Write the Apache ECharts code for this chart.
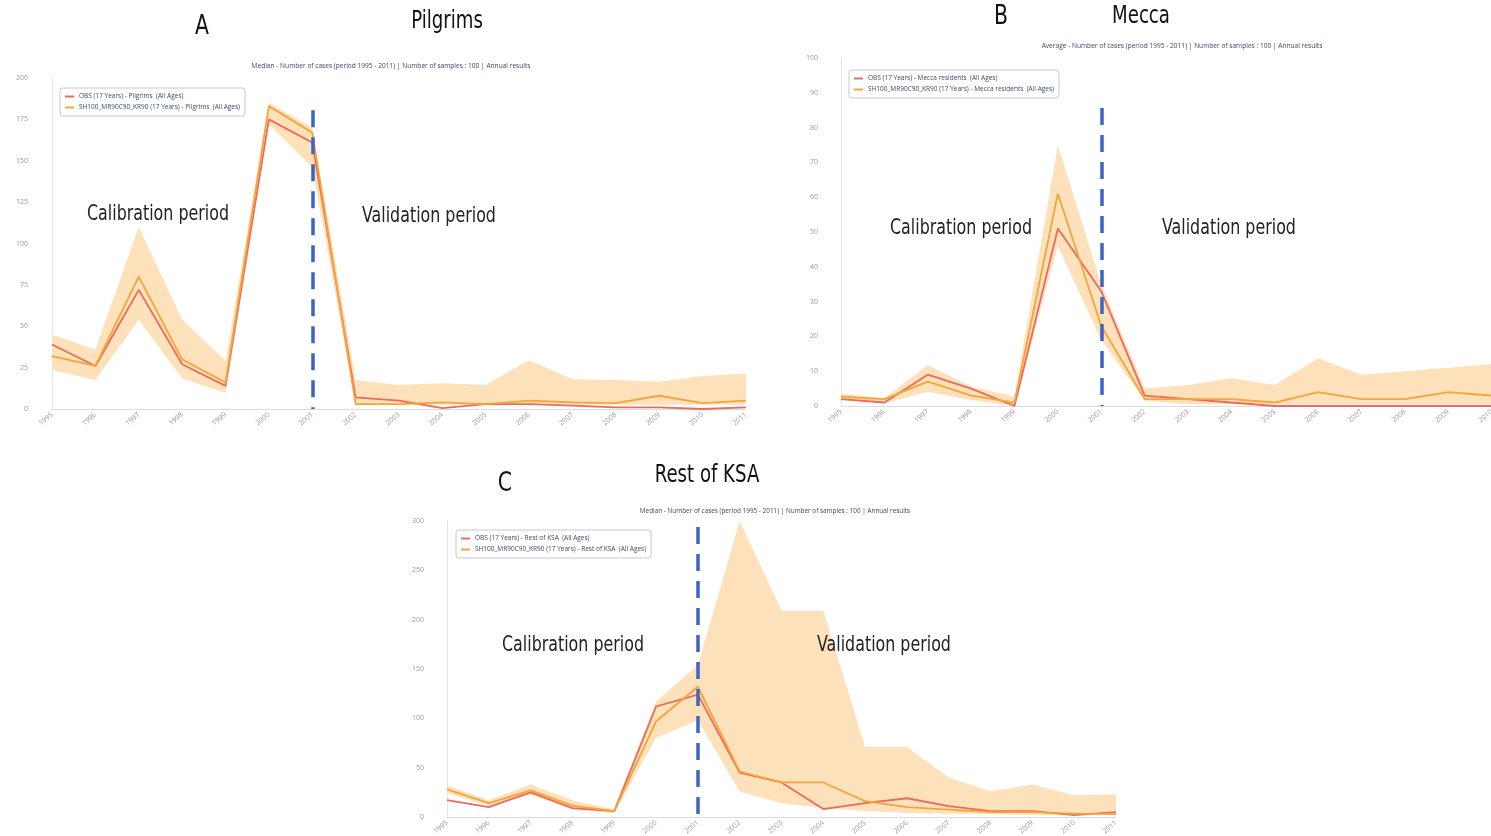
<!DOCTYPE html>
<html><head><meta charset="utf-8">
<script src="https://cdn.jsdelivr.net/npm/echarts@6/dist/echarts.min.js"></script>
<style>html,body{margin:0;padding:0;background:#fff}#c{width:1491px;height:836px}</style>
</head><body><div id="c"></div>
<script>
const years = ['1995','1996','1997','1998','1999','2000','2001','2002','2003','2004','2005','2006','2007','2008','2009','2010','2011'];

// Panel A - Pilgrims
const pilgrimsObs    = [39, 26, 72, 27, 14, 175, 161, 7, 5, 0.5, 3, 3, 2, 1, 1, 0, 1];
const pilgrimsSim    = [32, 26, 80, 30, 16, 183, 167, 3, 3, 4, 3, 5, 4, 3.5, 8, 3.5, 5];
const pilgrimsUpper  = [45, 36, 110, 54, 29, 185, 170, 17.5, 14.5, 15.5, 14.5, 29.5, 18, 17.5, 16.5, 20, 21.5];
const pilgrimsLower  = [23.5, 17.5, 54, 18.5, 9.6, 172, 146, 2.5, 2.5, 2.5, 2.5, 2.5, 2.5, 2.5, 2.5, 2.5, 2.5];

// Panel B - Mecca
const meccaObs   = [2, 1, 9, 5, 0, 51, 33, 3, 2, 1, 0, 0, 0, 0, 0, 0, 0];
const meccaSim   = [2.7, 2, 7, 3, 1, 61, 23, 2, 2, 2, 1, 4, 2, 2, 4, 3, 3];
const meccaUpper = [3.6, 2.2, 11.8, 5.6, 2.7, 75, 35, 5, 6, 8, 6, 13.7, 9, 10, 11, 12, 12];
const meccaLower = [1.7, 0.8, 4, 1.7, 0, 46, 19, 1.5, 0.5, 0.5, 0.5, 0.5, 0.5, 0.5, 0.5, 0.5, 0.5];

// Panel C - Rest of KSA
const ksaObs   = [17, 10, 25, 9, 6, 112, 124, 45, 35, 8, 14, 19, 11, 6, 6, 2, 5];
const ksaSim   = [28, 14, 27, 11.5, 6, 97, 132, 46, 35, 35, 16, 10, 7.5, 5, 5, 3.5, 3];
const ksaUpper = [32, 17, 33, 17, 7.5, 117, 154, 300, 209, 209, 71, 71, 40, 26, 33, 22, 23];
const ksaLower = [24, 11.5, 22.7, 7.5, 4, 80, 98, 25.7, 14, 9, 6, 4, 3.4, 3, 2, 2, 2];

const yTicksA = {min: 0, max: 200, interval: 25};
const yTicksB = {min: 0, max: 100, interval: 10};
const yTicksC = {min: 0, max: 300, interval: 50};

const RED = '#ee6a5c', ORANGE = '#f6a43a', BAND = '#fde1bb', BLUE = '#3c64c4';
const NARROW = "'Liberation Sans Narrow','DejaVu Sans Condensed',sans-serif";
const SMALL = "'Open Sans','Noto Sans',sans-serif";

const panels = [
  {key:'A', region:'Pilgrims', obs:pilgrimsObs, sim:pilgrimsSim, up:pilgrimsUpper, lo:pilgrimsLower, y:yTicksA,
   grid:{left:52, top:78, width:694, height:331, outerBoundsMode:'none'}, ymargin:24, mark:[180.5, 0],
   legend:{left:60, top:88}},
  {key:'B', region:'Mecca residents', obs:meccaObs, sim:meccaSim, up:meccaUpper, lo:meccaLower, y:yTicksB,
   grid:{left:841, top:58, width:694, height:348, outerBoundsMode:'none'}, ymargin:23, mark:[85.6, 0],
   legend:{left:849, top:70}},
  {key:'C', region:'Rest of KSA', obs:ksaObs, sim:ksaSim, up:ksaUpper, lo:ksaLower, y:yTicksC,
   grid:{left:447, top:521, width:669, height:296, outerBoundsMode:'none'}, ymargin:23, mark:[294, 0],
   legend:{left:456, top:530}}
];

const grids = [], xAxes = [], yAxes = [], series = [], legends = [];
panels.forEach((p, i) => {
  grids.push(p.grid);
  xAxes.push({type:'category', gridIndex:i, data:years, boundaryGap:false,
    axisLine:{lineStyle:{color:'#dcdcdc'}}, axisTick:{show:false},
    axisLabel:{rotate:40, fontSize:7, color:'#9a9a9a', interval:0, margin:5, fontFamily:SMALL}});
  yAxes.push({type:'value', gridIndex:i, min:p.y.min, max:p.y.max, interval:p.y.interval,
    axisLine:{show:true, lineStyle:{color:'#e4e4e4'}}, splitLine:{show:false}, axisTick:{show:false},
    axisLabel:{fontSize:7, color:'#9a9a9a', margin:p.ymargin, fontFamily:SMALL}});
  const obsName = 'OBS (17 Years) - ' + p.region + '  (All Ages)';
  const simName = 'SH100_MR90C90_KR90 (17 Years) - ' + p.region + '  (All Ages)';
  series.push({type:'line', xAxisIndex:i, yAxisIndex:i, data:p.lo, stack:'band'+i, symbol:'none',
    lineStyle:{opacity:0}, silent:true, name:'lo'+i});
  series.push({type:'line', xAxisIndex:i, yAxisIndex:i, data:p.up.map((v, k) => v - p.lo[k]), stack:'band'+i,
    symbol:'none', lineStyle:{opacity:0}, areaStyle:{color:BAND, opacity:1}, silent:true, name:'band'+i});
  series.push({type:'line', xAxisIndex:i, yAxisIndex:i, data:p.obs, name:obsName, symbol:'none',
    lineStyle:{color:RED, width:1.8}, itemStyle:{color:RED}, clip:false,
    markLine:{symbol:'none', silent:true, label:{show:false},
      lineStyle:{color:BLUE, width:3.5, type:[17, 10]},
      data:[[{coord:['2001', p.mark[0]]}, {coord:['2001', p.mark[1]]}]]}});
  series.push({type:'line', xAxisIndex:i, yAxisIndex:i, data:p.sim, name:simName, symbol:'none',
    lineStyle:{color:ORANGE, width:1.8}, itemStyle:{color:ORANGE}});
  legends.push({data:[obsName, simName], orient:'vertical', left:p.legend.left, top:p.legend.top,
    icon:'rect', itemWidth:9, itemHeight:2, itemGap:4, padding:[5, 5, 5, 5],
    borderColor:'#c8c8c8', borderWidth:1, borderRadius:3,
    textStyle:{fontSize:6.5, color:'#3c4a6a', fontFamily:SMALL}});
});

function txt(x, y, text, size, font, color, sx) {
  return {type:'text', x:x, y:y, z:100, scaleX:sx || 1,
    style:{text:text, fontSize:size, fontFamily:font, fill:color,
    textAlign:'center', textVerticalAlign:'middle'}};
}
const sub1 = 'Median - Number of cases (period 1995 - 2011) | Number of samples : 100 | Annual results';
const sub2 = 'Average - Number of cases (period 1995 - 2011) | Number of samples : 100 | Annual results';
const SX = 0.84;
const graphics = [
  txt(202, 27, 'A', 27, NARROW, '#111', SX), txt(447, 22, 'Pilgrims', 24, NARROW, '#111', SX),
  txt(1001, 17, 'B', 27, NARROW, '#111', SX), txt(1141, 17, 'Mecca', 24, NARROW, '#111', SX),
  txt(505, 484, 'C', 27, NARROW, '#111', SX), txt(707, 476, 'Rest of KSA', 24, NARROW, '#111', SX),
  txt(391, 66, sub1, 6.6, SMALL, '#3c4a6a'), txt(1182, 46, sub2, 6.6, SMALL, '#3c4a6a'),
  txt(775, 511, sub1, 6.4, SMALL, '#3c4a6a'),
  txt(158, 215, 'Calibration period', 21, NARROW, '#222', SX), txt(429, 217, 'Validation period', 21, NARROW, '#222', SX),
  txt(961, 229, 'Calibration period', 21, NARROW, '#222', SX), txt(1229, 229, 'Validation period', 21, NARROW, '#222', SX),
  txt(573, 646, 'Calibration period', 21, NARROW, '#222', SX), txt(884, 646, 'Validation period', 21, NARROW, '#222', SX)
];

const chart = echarts.init(document.getElementById('c'));
chart.setOption({
  animation:false, backgroundColor:'#fff',
  grid:grids, xAxis:xAxes, yAxis:yAxes, series:series, legend:legends, graphic:graphics
});
</script></body></html>
